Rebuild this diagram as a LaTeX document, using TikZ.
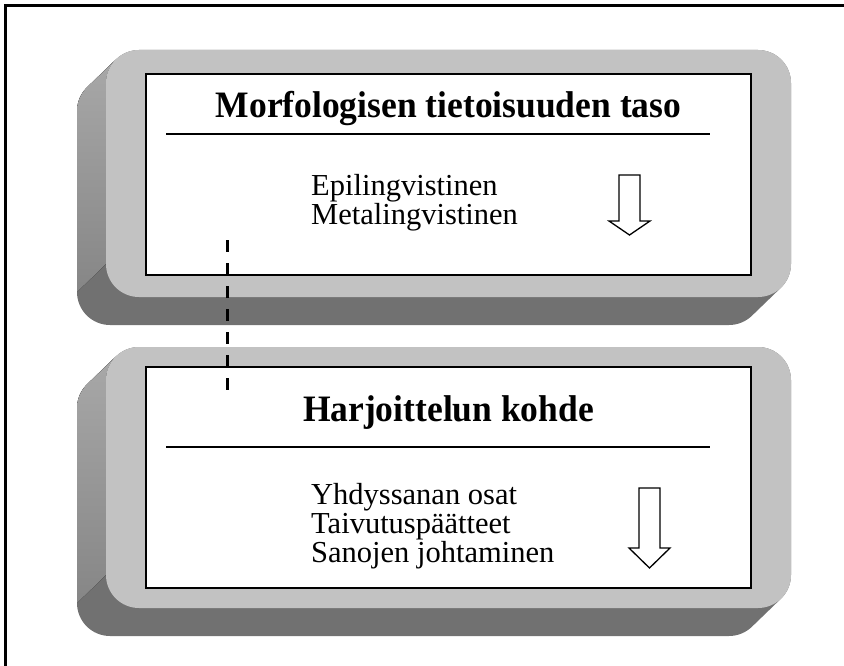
\documentclass[tikz,border=0pt]{standalone}
\usepackage{fontspec}
\setmainfont{Liberation Serif}
\definecolor{facegray}{HTML}{C2C2C2}
\definecolor{sidegray}{HTML}{A8A8A8}
\definecolor{sidedark}{HTML}{868686}
\definecolor{basegray}{HTML}{717171}
% Extruded rounded slab: front face (#1,#2)-(#3,#4), depth towards lower left
\newcommand\slabbox[4]{%
  \fill[basegray] ({#1+33},#2) -- ({#3-33},#2) arc[start angle=270,end angle=360,radius=33]
    -- (#3,{#4-33}) arc[start angle=0,end angle=45,radius=33]
    -- ++(-29,28) arc[start angle=45,end angle=90,radius=33]
    -- ({#1-29+33},{#4+28}) arc[start angle=90,end angle=180,radius=33]
    -- ({#1-29},{#2+28+33}) arc[start angle=180,end angle=225,radius=33]
    -- ++(29,-28) arc[start angle=225,end angle=270,radius=33] -- cycle;
  \fill[top color=sidegray, bottom color=sidedark] ({#1+9.67},{#2+9.67}) -- ++(-29,28)
    arc[start angle=225,end angle=180,radius=33]
    -- ({#1-29},{#4+28-33}) -- (#1,{#4-33}) -- (#1,{#2+33})
    arc[start angle=180,end angle=225,radius=33] -- cycle;
  \fill[facegray, rounded corners=33pt] (#1,#2) rectangle (#3,#4);
}
\tikzset{
  panel/.style={draw=black, line width=1.5pt, fill=white, minimum width=605pt, inner sep=0pt},
  heading/.style={anchor=base, inner sep=0pt, yscale=1.05, font=\fontsize{35.5pt}{40pt}\selectfont\bfseries},
  entry/.style={anchor=base west, inner sep=0pt, font=\fontsize{30.5pt}{34pt}\selectfont},
  rule/.style={line width=2pt},
  hollowarrow/.style={draw=black, line width=1.3pt, fill=white, line join=miter},
  link/.style={line width=3pt, dash pattern=on 12pt off 11pt}
}
\begin{document}
\begin{tikzpicture}[x=1pt,y=-1pt]
\useasboundingbox (0,0) rectangle (844,666);
% page frame (top and left edges)
\draw[line width=2.5pt] (5.5,666) -- (5.5,5.5) -- (844,5.5);

% upper slab
\slabbox{106}{50}{791}{297}
\node[panel, minimum height=201pt] (levelbox) at (448.5,174.5) {};
\node[heading] (leveltitle) at (448.5,118) {Morfologisen tietoisuuden taso};
\draw[rule] (166,134.5) -- (710,134.5);
\node[entry] (epi) at (311,196) {Epilingvistinen};
\node[entry] (meta) at (311,225) {Metalingvistinen};
\draw[hollowarrow] (619,175) -- (640,175) -- (640,221) -- (650,221) -- (629.5,235)
  -- (609,221) -- (619,221) -- cycle;

% lower slab
\slabbox{106}{347}{791}{608}
\node[panel, minimum height=221pt] (targetbox) at (448.5,477.5) {};
\node[heading] (targettitle) at (448.5,421.5) {Harjoittelun kohde};
\draw[rule] (166,447) -- (710,447);
\node[entry] (compound) at (311,504) {Yhdyssanan osat};
\node[entry] (inflect) at (311,533) {Taivutuspäätteet};
\node[entry] (derive) at (311,562) {Sanojen johtaminen};
\draw[hollowarrow] (639,488) -- (660,488) -- (660,548) -- (670,548) -- (649.5,568)
  -- (629,548) -- (639,548) -- cycle;

% dashed link between the two levels
\coordinate (linktop) at (227.5,240);
\coordinate (linkbot) at (227.5,400);
\draw[link] (linktop) -- (linkbot);
\end{tikzpicture}
\end{document}
